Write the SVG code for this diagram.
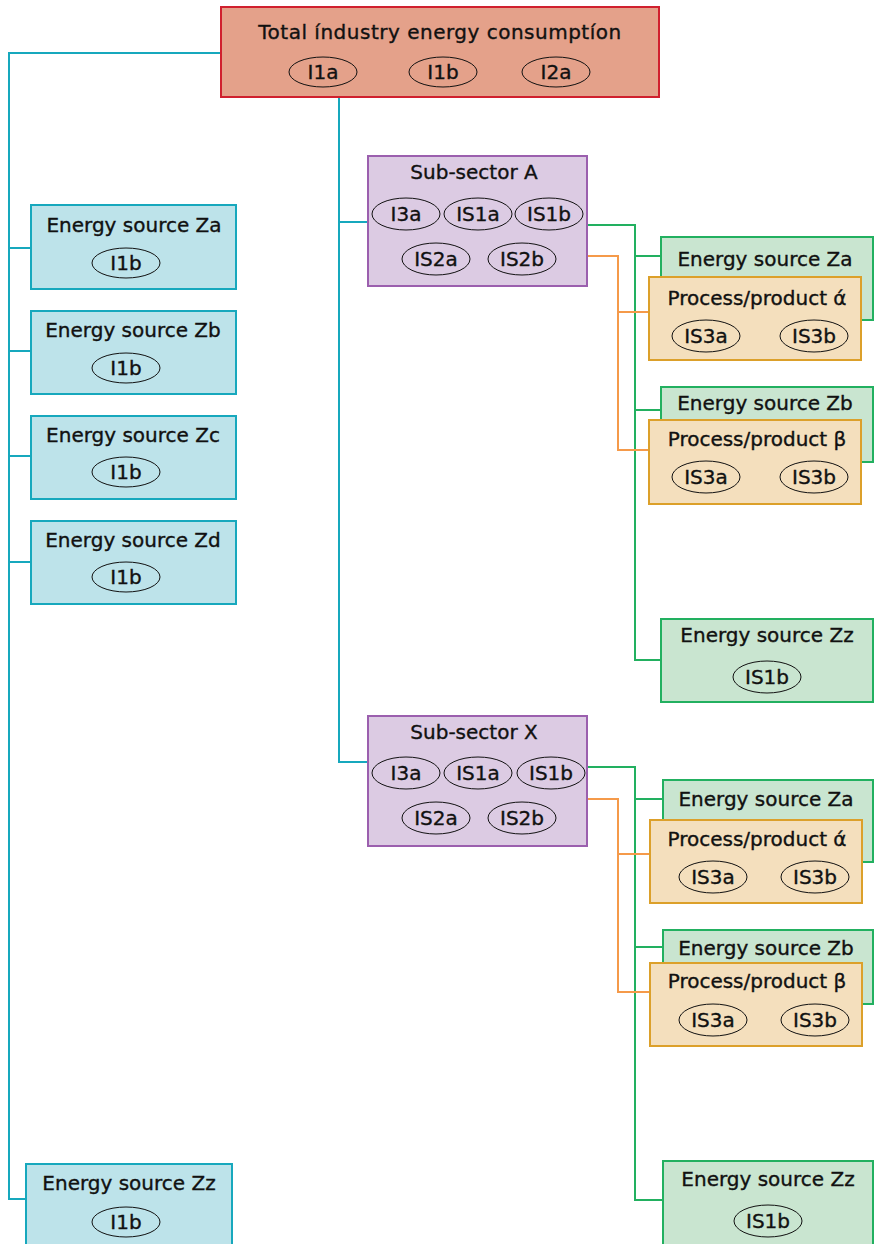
<svg xmlns="http://www.w3.org/2000/svg" width="874" height="1244" viewBox="0 0 874 1244">
<style>
text{font-family:"DejaVu Sans","Open Sans",sans-serif;font-size:20px;fill:#111;stroke:#111;stroke-width:0.35;text-anchor:middle}
.t{letter-spacing:0.5px}
.ov{fill:none;stroke:#111;stroke-width:1}
.top{fill:#e4a18a;stroke:#d0202e;stroke-width:2}
.blue{fill:#bde3ea;stroke:#17a8bd;stroke-width:2}
.pur{fill:#dccbe3;stroke:#9b5fae;stroke-width:2}
.grn{fill:#c9e5d0;stroke:#22b060;stroke-width:2}
.org{fill:#f4dfbd;stroke:#dca02a;stroke-width:2}
.cb{fill:none;stroke:#17a8bd;stroke-width:2}
.cg{fill:none;stroke:#22b060;stroke-width:2}
.co{fill:none;stroke:#f59a4a;stroke-width:2}
</style>
<rect width="874" height="1244" fill="#fff"/>
<g id="connectors">
<path class="cb" d="M221,53 H9 V1199 H26 M9,248 H31 M9,351 H31 M9,456 H31 M9,562 H31"/>
<path class="cb" d="M339,97 V762 H368 M339,222 H368"/>
<path class="cg" d="M587,225 H635 V660 H661 M635,256 H661 M635,410 H661"/>
<path class="co" d="M587,256 H618 V450 H649 M618,312 H649"/>
<path class="cg" d="M587,767 H635 V1200 H663 M635,799 H663 M635,947 H663"/>
<path class="co" d="M587,799 H618 V992 H650 M618,854 H650"/>
</g>
<g id="total">
<rect class="top" x="221" y="7" width="438" height="90"/>
<text class="t" x="440" y="39">Total índustry energy consumptíon</text>
<ellipse class="ov" cx="323" cy="72" rx="34" ry="15"/><text x="323" y="79">I1a</text>
<ellipse class="ov" cx="443" cy="72" rx="34" ry="15"/><text x="443" y="79">I1b</text>
<ellipse class="ov" cx="556" cy="72" rx="34" ry="15"/><text x="556" y="79">I2a</text>
</g>
<g id="blue-za">
<rect class="blue" x="31" y="205" width="205" height="84"/>
<text x="134" y="232">Energy source Za</text>
<ellipse class="ov" cx="126" cy="263" rx="34" ry="15"/><text x="126" y="270">I1b</text>
</g>
<g id="blue-zb">
<rect class="blue" x="31" y="311" width="205" height="83"/>
<text x="133" y="337">Energy source Zb</text>
<ellipse class="ov" cx="126" cy="368" rx="34" ry="15"/><text x="126" y="375">I1b</text>
</g>
<g id="blue-zc">
<rect class="blue" x="31" y="416" width="205" height="83"/>
<text x="133" y="442">Energy source Zc</text>
<ellipse class="ov" cx="126" cy="472" rx="34" ry="15"/><text x="126" y="479">I1b</text>
</g>
<g id="blue-zd">
<rect class="blue" x="31" y="521" width="205" height="83"/>
<text x="133" y="547">Energy source Zd</text>
<ellipse class="ov" cx="126" cy="577" rx="34" ry="15"/><text x="126" y="584">I1b</text>
</g>
<g id="blue-zz">
<rect class="blue" x="26" y="1164" width="206" height="90"/>
<text x="129" y="1190">Energy source Zz</text>
<ellipse class="ov" cx="126" cy="1222" rx="34" ry="15"/><text x="126" y="1229">I1b</text>
</g>
<g id="sub-a">
<rect class="pur" x="368" y="156" width="219" height="130"/>
<text x="474" y="179">Sub-sector A</text>
<ellipse class="ov" cx="406" cy="214" rx="34" ry="16"/><text x="406" y="221">I3a</text>
<ellipse class="ov" cx="478" cy="214" rx="34" ry="16"/><text x="478" y="221">IS1a</text>
<ellipse class="ov" cx="549" cy="214" rx="34" ry="16"/><text x="549" y="221">IS1b</text>
<ellipse class="ov" cx="436" cy="259" rx="34" ry="16"/><text x="436" y="266">IS2a</text>
<ellipse class="ov" cx="522" cy="259" rx="34" ry="16"/><text x="522" y="266">IS2b</text>
</g>
<g id="sub-x">
<rect class="pur" x="368" y="716" width="219" height="130"/>
<text x="474" y="739">Sub-sector X</text>
<ellipse class="ov" cx="406" cy="773" rx="34" ry="16"/><text x="406" y="780">I3a</text>
<ellipse class="ov" cx="478" cy="773" rx="34" ry="16"/><text x="478" y="780">IS1a</text>
<ellipse class="ov" cx="551" cy="773" rx="34" ry="16"/><text x="551" y="780">IS1b</text>
<ellipse class="ov" cx="436" cy="818" rx="34" ry="16"/><text x="436" y="825">IS2a</text>
<ellipse class="ov" cx="522" cy="818" rx="34" ry="16"/><text x="522" y="825">IS2b</text>
</g>
<g id="a-za">
<rect class="grn" x="661" y="237" width="212" height="83"/>
<text x="765" y="266">Energy source Za</text>
</g>
<g id="a-alpha">
<rect class="org" x="649" y="277" width="212" height="83"/>
<text x="757" y="305">Process/product ά</text>
<ellipse class="ov" cx="706" cy="336" rx="34" ry="16"/><text x="706" y="343">IS3a</text>
<ellipse class="ov" cx="814" cy="336" rx="34" ry="16"/><text x="814" y="343">IS3b</text>
</g>
<g id="a-zb">
<rect class="grn" x="661" y="387" width="212" height="75"/>
<text x="765" y="410">Energy source Zb</text>
</g>
<g id="a-beta">
<rect class="org" x="649" y="420" width="212" height="84"/>
<text x="757" y="446">Process/product β</text>
<ellipse class="ov" cx="706" cy="477" rx="34" ry="16"/><text x="706" y="484">IS3a</text>
<ellipse class="ov" cx="814" cy="477" rx="34" ry="16"/><text x="814" y="484">IS3b</text>
</g>
<g id="a-zz">
<rect class="grn" x="661" y="619" width="212" height="83"/>
<text x="767" y="642">Energy source Zz</text>
<ellipse class="ov" cx="767" cy="677" rx="34" ry="16"/><text x="767" y="684">IS1b</text>
</g>
<g id="x-za">
<rect class="grn" x="663" y="780" width="210" height="82"/>
<text x="766" y="806">Energy source Za</text>
</g>
<g id="x-alpha">
<rect class="org" x="650" y="820" width="212" height="83"/>
<text x="757" y="846">Process/product ά</text>
<ellipse class="ov" cx="713" cy="877" rx="34" ry="16"/><text x="713" y="884">IS3a</text>
<ellipse class="ov" cx="815" cy="877" rx="34" ry="16"/><text x="815" y="884">IS3b</text>
</g>
<g id="x-zb">
<rect class="grn" x="663" y="930" width="210" height="74"/>
<text x="766" y="955">Energy source Zb</text>
</g>
<g id="x-beta">
<rect class="org" x="650" y="963" width="212" height="83"/>
<text x="757" y="988">Process/product β</text>
<ellipse class="ov" cx="713" cy="1020" rx="34" ry="16"/><text x="713" y="1027">IS3a</text>
<ellipse class="ov" cx="815" cy="1020" rx="34" ry="16"/><text x="815" y="1027">IS3b</text>
</g>
<g id="x-zz">
<rect class="grn" x="663" y="1161" width="210" height="90"/>
<text x="768" y="1186">Energy source Zz</text>
<ellipse class="ov" cx="768" cy="1221" rx="34" ry="16"/><text x="768" y="1228">IS1b</text>
</g>
</svg>
